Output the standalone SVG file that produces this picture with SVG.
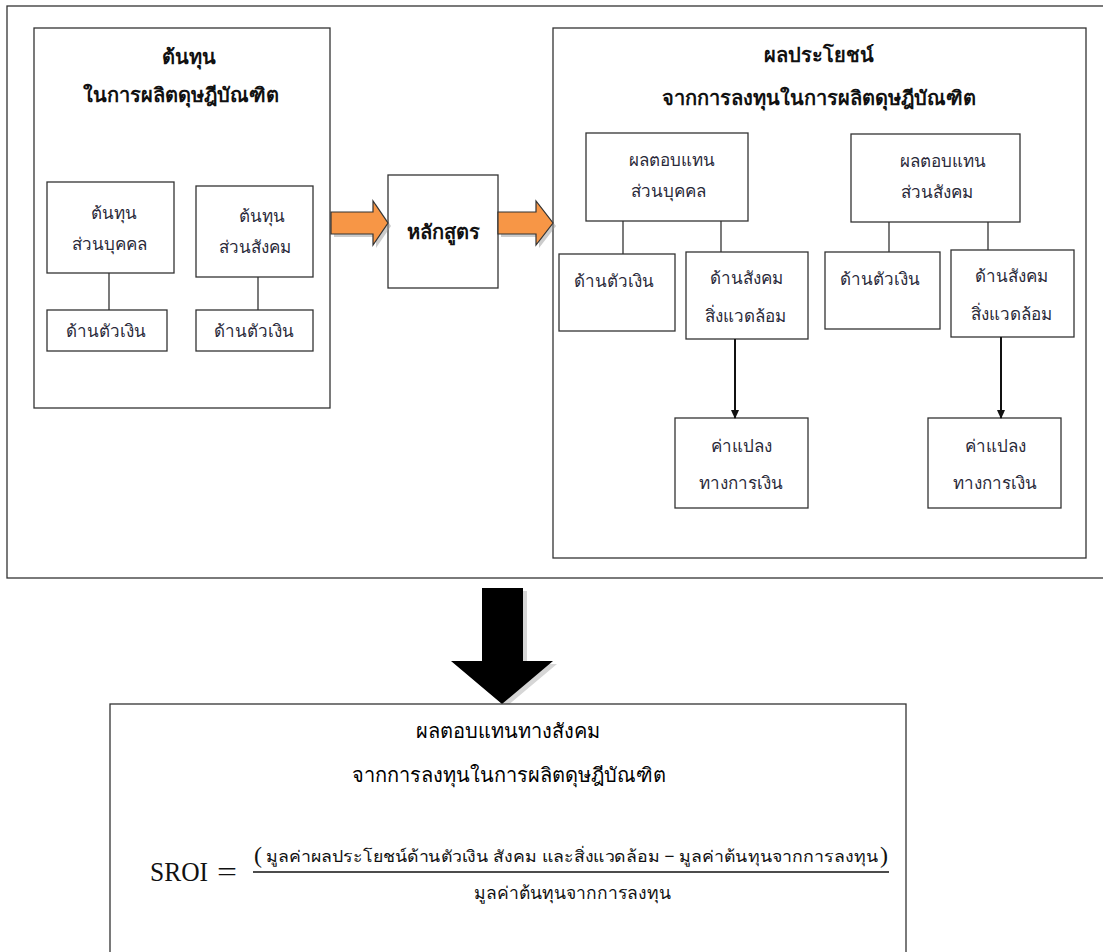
<svg xmlns="http://www.w3.org/2000/svg" width="1103" height="952" viewBox="0 0 1103 952">
<style>
.box{fill:#fff;stroke:#333;stroke-width:1.3}
.ln{stroke:#333;stroke-width:1.3;fill:none}
.t{font-family:"Noto Sans","DejaVu Sans",sans-serif;font-size:17px;fill:#2a2a3a;text-anchor:middle}
.tb{font-family:"Noto Sans","DejaVu Sans",sans-serif;font-size:20px;font-weight:bold;fill:#111;text-anchor:middle}
.tf{font-family:"Noto Sans","DejaVu Sans",sans-serif;font-size:16px;fill:#111;text-anchor:middle}
.tt{font-family:"Noto Sans","DejaVu Sans",sans-serif;font-size:20px;fill:#000;text-anchor:middle}
.oa{fill:#f79646;stroke:#333;stroke-width:1.2}
.sh{fill:#999;opacity:0.5}
.sr{font-family:"Liberation Serif",serif;font-size:28px;fill:#111}
</style>
<defs>
<marker id="ah" markerWidth="10" markerHeight="10" refX="8" refY="5" orient="auto" markerUnits="userSpaceOnUse">
<path d="M0,1 L9,5 L0,9 Z" fill="#111"/>
</marker>
</defs>
<rect x="7" y="6" width="1100" height="572" class="box"/>

<g id="left-panel">
<rect x="34" y="28" width="296" height="380" class="box"/>
<text class="tb" x="189" y="64">ต้นทุน</text>
<text class="tb" x="181" y="102">ในการผลิตดุษฎีบัณฑิต</text>
</g>
<g id="cost-personal">
<rect x="47" y="182" width="127" height="91" class="box"/>
<text class="t" x="114" y="219">ต้นทุน</text>
<text class="t" x="109" y="250">ส่วนบุคคล</text>
</g>
<g id="cost-social">
<rect x="196" y="186" width="117" height="91" class="box"/>
<text class="t" x="262" y="222">ต้นทุน</text>
<text class="t" x="255" y="253">ส่วนสังคม</text>
</g>
<g id="cost-personal-money">
<rect x="47" y="310" width="120" height="41" class="box"/>
<text class="t" x="106" y="337">ด้านตัวเงิน</text>
</g>
<g id="cost-social-money">
<rect x="196" y="310" width="117" height="41" class="box"/>
<text class="t" x="254" y="337">ด้านตัวเงิน</text>
</g>
<g id="curriculum">
<rect x="388" y="175" width="110" height="113" class="box"/>
<text class="tb" x="443" y="239">หลักสูตร</text>
</g>
<g id="right-panel">
<rect x="553" y="28" width="533" height="530" class="box"/>
<text class="tb" x="819" y="62">ผลประโยชน์</text>
<text class="tb" x="819" y="105">จากการลงทุนในการผลิตดุษฎีบัณฑิต</text>
</g>
<g id="ret-personal">
<rect x="586" y="133" width="162" height="88" class="box"/>
<text class="t" x="672" y="166">ผลตอบแทน</text>
<text class="t" x="668" y="197">ส่วนบุคคล</text>
</g>
<g id="ret-social">
<rect x="851" y="134" width="169" height="88" class="box"/>
<text class="t" x="943" y="167">ผลตอบแทน</text>
<text class="t" x="937" y="198">ส่วนสังคม</text>
</g>
<g id="ret-p-money">
<rect x="559" y="254" width="116" height="77" class="box"/>
<text class="t" x="614" y="287">ด้านตัวเงิน</text>
</g>
<g id="ret-p-social">
<rect x="686" y="252" width="122" height="87" class="box"/>
<text class="t" x="746" y="284">ด้านสังคม</text>
<text class="t" x="745" y="322">สิ่งแวดล้อม</text>
</g>
<g id="ret-s-money">
<rect x="825" y="252" width="115" height="77" class="box"/>
<text class="t" x="880" y="285">ด้านตัวเงิน</text>
</g>
<g id="ret-s-social">
<rect x="951" y="250" width="123" height="87" class="box"/>
<text class="t" x="1011" y="282">ด้านสังคม</text>
<text class="t" x="1011" y="320">สิ่งแวดล้อม</text>
</g>
<g id="conv-p">
<rect x="675" y="418" width="133" height="90" class="box"/>
<text class="t" x="741" y="452">ค่าแปลง</text>
<text class="t" x="741" y="489">ทางการเงิน</text>
</g>
<g id="conv-s">
<rect x="928" y="418" width="133" height="90" class="box"/>
<text class="t" x="995" y="452">ค่าแปลง</text>
<text class="t" x="995" y="489">ทางการเงิน</text>
</g>

<g id="connectors">
<line x1="109" y1="273" x2="109" y2="310" class="ln"/>
<line x1="258" y1="277" x2="258" y2="310" class="ln"/>
<line x1="623" y1="221" x2="623" y2="254" class="ln"/>
<line x1="721" y1="221" x2="721" y2="252" class="ln"/>
<line x1="889" y1="222" x2="889" y2="252" class="ln"/>
<line x1="988" y1="222" x2="988" y2="250" class="ln"/>
<line x1="735" y1="339" x2="735" y2="418" stroke="#111" stroke-width="2" marker-end="url(#ah)"/>
<line x1="1001" y1="337" x2="1001" y2="418" stroke="#111" stroke-width="2" marker-end="url(#ah)"/>
<path class="sh" d="M334,215 L376,215 L376,204 L391,226 L376,248 L376,237 L334,237 Z"/>
<path class="oa" d="M331,212 L373,212 L373,201 L388,223 L373,245 L373,234 L331,234 Z"/>
<path class="sh" d="M501,215 L539,215 L539,204 L556,226 L539,248 L539,237 L501,237 Z"/>
<path class="oa" d="M498,212 L536,212 L536,201 L553,223 L536,245 L536,234 L498,234 Z"/>
<path d="M486,591 L527,591 L527,664 L557,664 L506,707 L455,664 L486,664 Z" fill="#bbb" opacity="0.6"/>
<path d="M482,588 L523,588 L523,661 L553,661 L502,704 L451,661 L482,661 Z" fill="#000"/>
</g>

<g id="sroi">
<rect x="110" y="704" width="796" height="270" class="box"/>
<text class="tt" x="508" y="738">ผลตอบแทนทางสังคม</text>
<text class="tt" x="509" y="782">จากการลงทุนในการผลิตดุษฎีบัณฑิต</text>
<text class="sr" x="150" y="881" textLength="58" lengthAdjust="spacingAndGlyphs">SROI</text>
<text class="sr" x="217" y="881" textLength="20" lengthAdjust="spacingAndGlyphs">=</text>
<line x1="253" y1="872" x2="889" y2="872" stroke="#111" stroke-width="1.4"/>
<text class="sr" x="254" y="863" style="font-size:24px">(</text>
<text class="sr" x="880" y="863" style="font-size:24px">)</text>
<text class="tf" x="572" y="862" textLength="612" lengthAdjust="spacingAndGlyphs">มูลค่าผลประโยชน์ด้านตัวเงิน สังคม และสิ่งแวดล้อม − มูลค่าต้นทุนจากการลงทุน</text>
<text class="tf" x="572" y="899" style="font-size:17.5px">มูลค่าต้นทุนจากการลงทุน</text>
</g>
</svg>
